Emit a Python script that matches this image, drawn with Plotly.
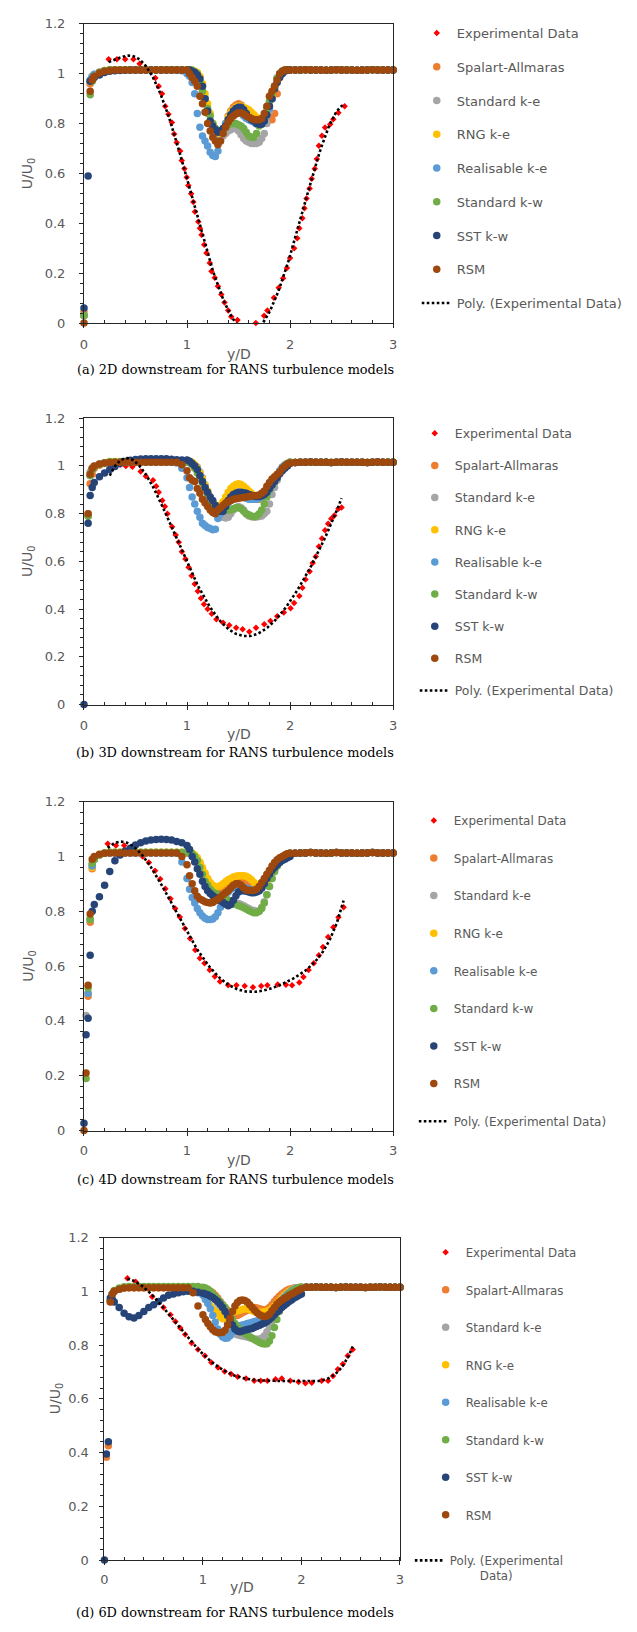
import numpy as np
import plotly.graph_objects as go

# Sample positions (y/D) shared by every CFD velocity profile
Y_D = [0, 0.02, 0.04, 0.06, 0.08, 0.1, 0.15, 0.2, 0.25, 0.3, 0.35, 0.4, 0.45, 0.5, 0.55, 0.6,
       0.65, 0.7, 0.75, 0.8, 0.85, 0.9, 0.95,
       1.0, 1.025, 1.05, 1.075, 1.1, 1.125, 1.15, 1.175, 1.2, 1.225, 1.25, 1.275, 1.3, 1.325,
       1.35, 1.375, 1.4, 1.425, 1.45, 1.475, 1.5, 1.525, 1.55, 1.575, 1.6, 1.625, 1.65, 1.675,
       1.7, 1.725, 1.75, 1.775, 1.8, 1.825, 1.85, 1.875, 1.9, 1.925, 1.95, 1.975, 2.0,
       2.05, 2.1, 2.15, 2.2, 2.25, 2.3, 2.35, 2.4, 2.45, 2.5, 2.55, 2.6, 2.65, 2.7, 2.75, 2.8,
       2.85, 2.9, 2.95, 3.0]

MODELS = ["Spalart-Allmaras", "Standard k-e", "RNG k-e", "Realisable k-e",
          "Standard k-w", "SST k-w", "RSM"]
MODEL_COLORS = ["#ED7D31", "#A5A5A5", "#FFC000", "#5B9BD5", "#70AD47", "#264478", "#9E480E"]

# ---------------- (a) 2D downstream ----------------
EXP_X_2D = [0.24, 0.32, 0.40, 0.48, 0.54, 0.62, 0.693, 0.725, 0.757, 0.789, 0.82, 0.853, 0.875,
            0.90, 0.933, 0.949, 0.975, 0.997, 1.013, 1.04, 1.061, 1.077, 1.109, 1.125, 1.141,
            1.167, 1.189, 1.221, 1.237, 1.269, 1.30, 1.333, 1.364, 1.40, 1.43, 1.49, 1.668,
            1.748, 1.78, 1.844, 1.89, 1.933, 1.97, 2.0, 2.04, 2.07, 2.09, 2.12, 2.14, 2.16, 2.19,
            2.21, 2.24, 2.26, 2.28, 2.31, 2.34, 2.39, 2.42, 2.47, 2.53]
EXP_U_2D = [1.058, 1.058, 1.058, 1.058, 1.04, 1.016, 0.983, 0.95, 0.92, 0.87, 0.837, 0.804, 0.758,
            0.724, 0.69, 0.652, 0.619, 0.585, 0.552, 0.519, 0.486, 0.446, 0.406, 0.38, 0.354,
            0.314, 0.281, 0.241, 0.208, 0.182, 0.148, 0.115, 0.082, 0.05, 0.025, 0.012, 0.0,
            0.029, 0.05, 0.102, 0.142, 0.18, 0.221, 0.261, 0.30, 0.34, 0.38, 0.42, 0.46, 0.50, 0.54,
            0.579, 0.619, 0.658, 0.711, 0.751, 0.784, 0.797, 0.817, 0.843, 0.87]
TAIL_2D = [1.015, 1.015, 1.016, 1.015, 1.015, 1.015, 1.014, 1.015, 1.016, 1.015,
           1.015, 1.015, 1.014, 1.015, 1.015, 1.016, 1.015, 1.015, 1.015, 1.015]
SA_2D = [0.045, None, None, 0.96, 0.985, 0.995, 1.005, 1.012,
         1.015, 1.015, 1.015, 1.015, 1.015, 1.015, 1.015, 1.015, 1.015, 1.015, 1.015, 1.015, 1.015, 1.015, 1.015,
         1.015, 1.015, 1.012, 1.008, 1.0, 0.985, 0.95, 0.9, 0.85, 0.81, 0.78, 0.76, 0.75, 0.755,
         0.775, 0.8, 0.83, 0.85, 0.865, 0.875, 0.88, 0.875, 0.86, 0.85, 0.84, 0.835, 0.825, 0.815,
         0.805, 0.8, 0.805, 0.82, 0.83, 0.815, 0.84, 0.92, 0.99, 1.008, 1.013, 1.015, 1.015] + TAIL_2D
KE_2D = [0.03, None, None, 0.97, 0.988, 0.997, 1.006, 1.012,
         1.015, 1.015, 1.015, 1.015, 1.015, 1.015, 1.015, 1.015, 1.015, 1.015, 1.015, 1.015, 1.015, 1.015, 1.015,
         1.015, 1.015, 1.012, 1.005, 0.995, 0.97, 0.93, 0.88, 0.84, 0.8, 0.78, 0.76, 0.745, 0.74,
         0.75, 0.76, 0.77, 0.775, 0.78, 0.78, 0.77, 0.755, 0.74, 0.73, 0.725, 0.72, 0.72, 0.72,
         0.725, 0.74, 0.76, 0.8, 0.85, 0.9, 0.95, 0.985, 1.0, 1.01, 1.013, 1.015, 1.015] + TAIL_2D
RNG_2D = [0.03, None, None, 0.97, 0.988, 0.997, 1.006, 1.013,
          1.016, 1.016, 1.016, 1.016, 1.016, 1.016, 1.016, 1.016, 1.016, 1.016, 1.016, 1.016, 1.016, 1.016, 1.016,
          1.016, 1.016, 1.015, 1.01, 1.005, 0.99, 0.96, 0.92, 0.88, 0.84, 0.8, 0.78, 0.765, 0.76,
          0.775, 0.8, 0.825, 0.845, 0.855, 0.865, 0.87, 0.87, 0.865, 0.86, 0.855, 0.845, 0.835, 0.825,
          0.815, 0.81, 0.815, 0.84, 0.87, 0.91, 0.95, 0.98, 1.0, 1.01, 1.015, 1.016, 1.016] + TAIL_2D
RKE_2D = [0.03, None, None, 0.975, 0.99, 0.998, 1.006, 1.012,
          1.015, 1.015, 1.015, 1.015, 1.015, 1.015, 1.015, 1.015, 1.015, 1.015, 1.015, 1.015, 1.015, 1.015, 1.012,
          1.0, 0.99, 0.965, 0.92, 0.84, 0.785, 0.75, 0.73, 0.71, 0.685, 0.672, 0.668, 0.69, 0.73,
          0.77, 0.8, 0.815, 0.825, 0.835, 0.84, 0.845, 0.84, 0.83, 0.82, 0.815, 0.81, 0.805, 0.8,
          0.795, 0.8, 0.81, 0.83, 0.86, 0.9, 0.95, 0.98, 1.0, 1.01, 1.015, 1.015, 1.015] + TAIL_2D
KW_2D = [0.03, None, None, 0.916, 0.97, 0.99, 1.005, 1.013,
         1.016, 1.016, 1.016, 1.016, 1.016, 1.016, 1.016, 1.016, 1.016, 1.016, 1.016, 1.016, 1.016, 1.016, 1.016,
         1.016, 1.016, 1.014, 1.008, 1.0, 0.97, 0.93, 0.9, 0.86, 0.83, 0.8, 0.78, 0.77, 0.77,
         0.775, 0.785, 0.795, 0.8, 0.8, 0.8, 0.795, 0.79, 0.78, 0.765, 0.75, 0.745, 0.745, 0.76,
         0.79, 0.81, 0.83, 0.86, 0.89, 0.92, 0.95, 0.98, 1.0, 1.01, 1.015, 1.016, 1.016] + TAIL_2D
SST_2D = [0.06, None, 0.59, 0.97, 0.978, 0.985, 0.995, 1.005, 1.01, 1.012, 1.013, 1.014,
          1.015, 1.015, 1.015, 1.015, 1.015, 1.015, 1.015, 1.015, 1.015, 1.015, 1.015,
          1.015, 1.015, 1.01, 1.005, 0.995, 0.98, 0.95, 0.9, 0.85, 0.81, 0.79, 0.775, 0.765, 0.77,
          0.78, 0.79, 0.815, 0.835, 0.85, 0.86, 0.865, 0.865, 0.855, 0.84, 0.825, 0.815, 0.81, 0.8,
          0.797, 0.797, 0.81, 0.835, 0.87, 0.9, 0.94, 0.965, 0.985, 1.0, 1.01, 1.015, 1.015] + TAIL_2D
RSM_2D = [0.0, None, None, 0.93, 0.975, 0.99, 1.003, 1.01, 1.013,
          1.015, 1.015, 1.015, 1.015, 1.015, 1.015, 1.015, 1.015, 1.015, 1.015, 1.015, 1.015, 1.015, 1.015,
          1.015, 1.0, 0.985, 0.97, 0.95, 0.91, 0.88, 0.845, 0.8, 0.77, 0.745, 0.73, 0.715, 0.73,
          0.76, 0.785, 0.805, 0.82, 0.83, 0.838, 0.843, 0.843, 0.838, 0.83, 0.825, 0.82, 0.816, 0.815,
          0.815, 0.82, 0.84, 0.87, 0.91, 0.93, 0.95, 0.975, 1.0, 1.01, 1.015, 1.015, 1.015] + TAIL_2D

# ---------------- (b) 3D downstream ----------------
EXP_X_3D = [0.25, 0.30, 0.35, 0.406, 0.47, 0.55, 0.60, 0.67, 0.70, 0.725, 0.76, 0.785, 0.81, 0.855,
            0.89, 0.92, 0.95, 0.985, 1.015, 1.045, 1.075, 1.105, 1.135, 1.165, 1.2, 1.24, 1.285,
            1.35, 1.41, 1.477, 1.54, 1.605, 1.67, 1.75, 1.81, 1.876, 1.94, 2.005, 2.04, 2.09, 2.12,
            2.15, 2.19, 2.22, 2.25, 2.28, 2.31, 2.34, 2.37, 2.40, 2.43, 2.47, 2.50]
EXP_U_3D = [0.99, 1.0, 1.005, 1.0, 0.997, 0.977, 0.957, 0.94, 0.915, 0.89, 0.855, 0.83, 0.80, 0.745,
            0.71, 0.68, 0.64, 0.61, 0.575, 0.54, 0.505, 0.475, 0.445, 0.42, 0.40, 0.38, 0.357,
            0.343, 0.332, 0.322, 0.315, 0.305, 0.322, 0.336, 0.35, 0.37, 0.386, 0.404, 0.425, 0.455,
            0.489, 0.524, 0.558, 0.593, 0.62, 0.662, 0.696, 0.73, 0.758, 0.779, 0.792, 0.82, 0.826]
TAIL_3D = [1.014, 1.015, 1.015, 1.016, 1.015, 1.015, 1.015, 1.014, 1.015, 1.016,
           1.015, 1.015, 1.015, 1.015, 1.014, 1.015, 1.016, 1.015, 1.015, 1.015]
SA_3D = [None, None, 0.79, 0.925, 0.965, 0.99, 1.003, 1.01, 1.013,
         1.015, 1.015, 1.015, 1.015, 1.015, 1.015, 1.015, 1.015, 1.015, 1.015, 1.015, 1.015, 1.015, 1.015,
         1.015, 1.013, 1.01, 1.0, 0.985, 0.96, 0.93, 0.9, 0.875, 0.855, 0.84, 0.83, 0.825, 0.83,
         0.845, 0.86, 0.87, 0.88, 0.885, 0.89, 0.89, 0.888, 0.885, 0.88, 0.875, 0.87, 0.865, 0.86,
         0.86, 0.865, 0.87, 0.88, 0.89, 0.91, 0.93, 0.95, 0.97, 0.985, 1.0, 1.01, 1.015] + TAIL_3D
KE_3D = [None, None, 0.80, 0.975, 0.99, 1.0, 1.008, 1.012,
         1.015, 1.015, 1.015, 1.015, 1.015, 1.015, 1.015, 1.015, 1.015, 1.015, 1.015, 1.015, 1.015, 1.015, 1.015,
         1.015, 1.013, 1.01, 1.003, 0.995, 0.975, 0.95, 0.92, 0.89, 0.86, 0.835, 0.815, 0.8, 0.79,
         0.785, 0.782, 0.785, 0.8, 0.815, 0.825, 0.83, 0.825, 0.815, 0.8, 0.79, 0.787, 0.786, 0.786,
         0.788, 0.79, 0.8, 0.81, 0.84, 0.88, 0.91, 0.94, 0.965, 0.985, 1.0, 1.01, 1.015] + TAIL_3D
RNG_3D = [None, None, 0.79, 0.96, 0.985, 0.997, 1.006, 1.012,
          1.018, 1.018, 1.018, 1.018, 1.018, 1.018, 1.018, 1.018, 1.018, 1.018, 1.018, 1.018, 1.018, 1.018, 1.018,
          1.02, 1.018, 1.015, 1.005, 0.99, 0.97, 0.945, 0.92, 0.895, 0.87, 0.85, 0.835, 0.83, 0.835,
          0.85, 0.87, 0.89, 0.905, 0.915, 0.922, 0.925, 0.922, 0.915, 0.905, 0.895, 0.885, 0.875, 0.87,
          0.87, 0.875, 0.885, 0.9, 0.915, 0.93, 0.945, 0.96, 0.975, 0.99, 1.0, 1.01, 1.015] + TAIL_3D
RKE_3D = [None, None, 0.79, 0.96, 0.985, 0.997, 1.006, 1.012,
          1.016, 1.016, 1.016, 1.016, 1.016, 1.016, 1.016, 1.016, 1.016, 1.016, 1.016, 1.016, 1.016, 1.012, 0.99,
          0.95, 0.91, 0.87, 0.84, 0.81, 0.785, 0.76, 0.75, 0.742, 0.738, 0.733, 0.735, 0.78, 0.80,
          0.82, 0.835, 0.845, 0.855, 0.86, 0.865, 0.87, 0.87, 0.87, 0.865, 0.86, 0.86, 0.86, 0.86,
          0.865, 0.87, 0.875, 0.885, 0.9, 0.92, 0.94, 0.96, 0.98, 0.995, 1.005, 1.01, 1.015] + TAIL_3D
KW_3D = [None, None, 0.79, 0.96, 0.985, 0.997, 1.006, 1.013,
         1.017, 1.017, 1.017, 1.017, 1.017, 1.017, 1.017, 1.017, 1.017, 1.017, 1.017, 1.017, 1.017, 1.017, 1.017,
         1.015, 1.015, 1.005, 0.99, 0.97, 0.95, 0.93, 0.91, 0.885, 0.86, 0.84, 0.83, 0.82, 0.815,
         0.815, 0.815, 0.815, 0.815, 0.82, 0.825, 0.825, 0.82, 0.81, 0.8, 0.795, 0.79, 0.787, 0.79,
         0.8, 0.815, 0.84, 0.87, 0.9, 0.92, 0.94, 0.96, 0.975, 0.99, 1.0, 1.01, 1.015] + TAIL_3D
SST_3D = [0.0, None, 0.76, 0.876, 0.91, 0.93, 0.955, 0.97, 0.985, 0.998, 1.01, 1.018, 1.024,
          1.027, 1.029, 1.03, 1.03, 1.03, 1.03, 1.03, 1.028, 1.026, 1.025,
          1.025, 1.02, 1.01, 1.0, 0.985, 0.96, 0.935, 0.91, 0.89, 0.87, 0.855, 0.835, 0.82, 0.81,
          0.81, 0.83, 0.855, 0.87, 0.88, 0.885, 0.89, 0.89, 0.888, 0.885, 0.88, 0.877, 0.874, 0.872,
          0.872, 0.875, 0.88, 0.89, 0.905, 0.92, 0.935, 0.95, 0.968, 0.98, 0.99, 1.0, 1.01] + TAIL_3D
RSM_3D = [None, None, 0.80, 0.965, 0.99, 1.0, 1.008, 1.012, 1.014,
          1.015, 1.015, 1.015, 1.015, 1.015, 1.015, 1.015, 1.015, 1.015, 1.015, 1.015, 1.015, 1.015, 1.005,
          0.98, 0.95, 0.94, 0.935, 0.905, 0.885, 0.86, 0.845, 0.83, 0.815, 0.805, 0.8, 0.815, 0.825,
          0.835, 0.845, 0.85, 0.855, 0.86, 0.862, 0.865, 0.867, 0.868, 0.87, 0.872, 0.874, 0.875, 0.876,
          0.878, 0.885, 0.895, 0.915, 0.93, 0.945, 0.955, 0.965, 0.975, 0.99, 1.0, 1.008, 1.012] + TAIL_3D

# ---------------- (c) 4D downstream ----------------
EXP_X_4D = [0.23, 0.31, 0.39, 0.49, 0.57, 0.63, 0.69, 0.74, 0.79, 0.84, 0.885, 0.93, 0.98, 1.03,
            1.08, 1.125, 1.17, 1.22, 1.27, 1.32, 1.40, 1.48, 1.56, 1.64, 1.72, 1.78, 1.88, 1.96,
            2.02, 2.09, 2.13, 2.18, 2.23, 2.28, 2.32, 2.37, 2.42, 2.47, 2.52]
EXP_U_4D = [1.046, 1.04, 1.04, 1.02, 1.0, 0.978, 0.948, 0.918, 0.882, 0.846, 0.81, 0.779, 0.737,
            0.701, 0.659, 0.629, 0.61, 0.586, 0.562, 0.544, 0.53, 0.53, 0.527, 0.523, 0.527, 0.53,
            0.533, 0.532, 0.53, 0.54, 0.56, 0.586, 0.61, 0.64, 0.67, 0.706, 0.742, 0.778, 0.815]
TAIL_4D = [1.012, 1.013, 1.013, 1.014, 1.013, 1.013, 1.012, 1.013, 1.014, 1.013,
           1.013, 1.013, 1.012, 1.013, 1.013, 1.014, 1.013, 1.013, 1.013, 1.013]
SA_4D = [None, None, 0.49, 0.76, 0.955, 0.99, 1.005, 1.012,
         1.013, 1.013, 1.013, 1.013, 1.013, 1.013, 1.013, 1.013, 1.013, 1.013, 1.013, 1.013, 1.013, 1.013, 1.013,
         1.013, 1.013, 1.01, 1.0, 0.99, 0.975, 0.955, 0.935, 0.915, 0.9, 0.89, 0.882, 0.878, 0.878,
         0.88, 0.885, 0.89, 0.895, 0.9, 0.903, 0.905, 0.905, 0.905, 0.905, 0.903, 0.9, 0.897, 0.893,
         0.89, 0.89, 0.895, 0.905, 0.92, 0.94, 0.955, 0.97, 0.985, 0.995, 1.005, 1.01, 1.013] + TAIL_4D
KE_4D = [None, 0.42, 0.50, 0.77, 0.968, 0.99, 1.005, 1.012,
         1.013, 1.013, 1.013, 1.013, 1.013, 1.013, 1.013, 1.013, 1.013, 1.013, 1.013, 1.013, 1.013, 1.013, 1.013,
         1.013, 1.012, 1.01, 1.0, 0.985, 0.965, 0.945, 0.925, 0.905, 0.89, 0.875, 0.865, 0.858, 0.852,
         0.848, 0.845, 0.84, 0.835, 0.83, 0.83, 0.828, 0.825, 0.82, 0.815, 0.81, 0.805, 0.803, 0.8,
         0.8, 0.815, 0.835, 0.86, 0.89, 0.92, 0.945, 0.965, 0.98, 0.99, 1.0, 1.008, 1.012] + TAIL_4D
RNG_4D = [None, None, 0.50, 0.77, 0.96, 0.99, 1.005, 1.013,
          1.015, 1.015, 1.015, 1.015, 1.015, 1.015, 1.015, 1.015, 1.015, 1.015, 1.015, 1.015, 1.015, 1.015, 1.015,
          1.015, 1.014, 1.012, 1.005, 0.995, 0.98, 0.96, 0.94, 0.92, 0.905, 0.895, 0.89, 0.89, 0.893,
          0.9, 0.908, 0.915, 0.92, 0.925, 0.928, 0.93, 0.93, 0.93, 0.928, 0.922, 0.915, 0.905, 0.895,
          0.89, 0.89, 0.9, 0.915, 0.93, 0.945, 0.96, 0.972, 0.983, 0.992, 1.0, 1.008, 1.012] + TAIL_4D
RKE_4D = [None, None, 0.50, 0.77, 0.965, 0.99, 1.005, 1.012,
          1.013, 1.013, 1.013, 1.013, 1.013, 1.013, 1.013, 1.013, 1.013, 1.013, 1.013, 1.013, 1.013, 1.012, 0.98,
          0.92, 0.88, 0.85, 0.83, 0.81, 0.795, 0.783, 0.775, 0.77, 0.77, 0.772, 0.78, 0.795, 0.815,
          0.835, 0.855, 0.87, 0.88, 0.885, 0.888, 0.89, 0.89, 0.888, 0.885, 0.882, 0.878, 0.875, 0.873,
          0.875, 0.885, 0.9, 0.92, 0.94, 0.955, 0.968, 0.978, 0.987, 0.995, 1.002, 1.008, 1.012] + TAIL_4D
KW_4D = [None, 0.19, 0.52, 0.77, 0.975, 0.99, 1.006, 1.013,
         1.015, 1.015, 1.015, 1.015, 1.015, 1.015, 1.015, 1.015, 1.015, 1.015, 1.015, 1.015, 1.015, 1.015, 1.015,
         1.015, 1.015, 1.01, 1.0, 0.985, 0.96, 0.935, 0.91, 0.895, 0.88, 0.87, 0.865, 0.86, 0.855,
         0.85, 0.845, 0.84, 0.835, 0.83, 0.825, 0.82, 0.817, 0.813, 0.808, 0.803, 0.798, 0.795, 0.795,
         0.8, 0.81, 0.83, 0.86, 0.89, 0.92, 0.945, 0.965, 0.98, 0.99, 1.0, 1.008, 1.012] + TAIL_4D
SST_4D = [0.027, 0.35, 0.41, 0.64, 0.80, 0.825, 0.853, 0.895, 0.945, 0.984, 1.005, 1.02, 1.03,
          1.042, 1.05, 1.056, 1.06, 1.062, 1.063, 1.062, 1.06, 1.055, 1.05,
          1.04, 1.025, 1.0, 0.98, 0.955, 0.935, 0.91, 0.89, 0.875, 0.865, 0.857, 0.85, 0.843, 0.838,
          0.832, 0.826, 0.82, 0.825, 0.84, 0.857, 0.87, 0.875, 0.875, 0.873, 0.87, 0.868, 0.868, 0.87,
          0.875, 0.885, 0.9, 0.92, 0.935, 0.95, 0.96, 0.97, 0.978, 0.985, 0.99, 0.995, 1.0] + TAIL_4D
RSM_4D = [0.0, 0.21, 0.53, 0.79, 0.99, 1.0, 1.008, 1.012,
          1.013, 1.013, 1.013, 1.013, 1.013, 1.013, 1.013, 1.013, 1.013, 1.013, 1.013, 1.013, 1.013, 1.013, 1.0,
          0.97, 0.93, 0.9, 0.875, 0.855, 0.845, 0.84, 0.835, 0.832, 0.83, 0.832, 0.838, 0.845, 0.852,
          0.86, 0.868, 0.875, 0.885, 0.895, 0.9, 0.9, 0.895, 0.885, 0.878, 0.877, 0.876, 0.877, 0.88,
          0.89, 0.905, 0.92, 0.935, 0.95, 0.965, 0.978, 0.988, 0.995, 1.0, 1.005, 1.01, 1.012] + TAIL_4D

# ---------------- (d) 6D downstream ----------------
EXP_X_6D = [0.233, 0.317, 0.40, 0.485, 0.55, 0.60, 0.67, 0.72, 0.77, 0.82, 0.885, 0.95, 1.02,
            1.085, 1.153, 1.22, 1.286, 1.353, 1.437, 1.52, 1.587, 1.654, 1.737, 1.80, 1.886, 1.97,
            2.04, 2.105, 2.205, 2.27, 2.32, 2.37, 2.42, 2.47, 2.52]
EXP_U_6D = [1.049, 1.036, 1.012, 0.98, 0.96, 0.94, 0.913, 0.888, 0.864, 0.839, 0.808, 0.784, 0.76,
            0.735, 0.717, 0.702, 0.692, 0.682, 0.676, 0.667, 0.667, 0.667, 0.673, 0.676, 0.667, 0.663,
            0.658, 0.66, 0.667, 0.667, 0.685, 0.71, 0.73, 0.76, 0.784]
TAIL_6D = [1.015, 1.015, 1.016, 1.015, 1.015, 1.015, 1.014, 1.015, 1.016, 1.015,
           1.015, 1.015, 1.014, 1.015, 1.015, 1.016, 1.015, 1.015, 1.015, 1.015]
SA_6D = [None, 0.383, 0.425, 0.962, 0.99, 1.0, 1.008, 1.012,
         1.013, 1.013, 1.013, 1.013, 1.013, 1.013, 1.013, 1.013, 1.013, 1.013, 1.013, 1.013, 1.013, 1.013, 1.013,
         1.01, 1.008, 1.005, 1.0, 0.995, 0.985, 0.975, 0.962, 0.95, 0.94, 0.93, 0.922, 0.915, 0.91,
         0.91, 0.915, 0.92, 0.925, 0.93, 0.935, 0.94, 0.94, 0.938, 0.935, 0.932, 0.93, 0.933, 0.94,
         0.95, 0.962, 0.972, 0.982, 0.99, 0.997, 1.003, 1.008, 1.01, 1.012, 1.013, 1.014, 1.015] + TAIL_6D
KE_6D = [None, None, None, 0.965, 0.99, 1.0, 1.008, 1.013,
         1.015, 1.015, 1.015, 1.015, 1.015, 1.015, 1.015, 1.015, 1.015, 1.015, 1.015, 1.015, 1.015, 1.015, 1.015,
         1.005, 1.0, 0.995, 0.988, 0.98, 0.97, 0.955, 0.94, 0.92, 0.9, 0.88, 0.865, 0.85, 0.842,
         0.838, 0.836, 0.834, 0.832, 0.83, 0.827, 0.825, 0.823, 0.822, 0.822, 0.826, 0.835, 0.85, 0.868,
         0.89, 0.91, 0.93, 0.948, 0.962, 0.975, 0.985, 0.993, 1.0, 1.005, 1.01, 1.012, 1.014] + TAIL_6D
RNG_6D = [None, None, None, 0.965, 0.99, 1.0, 1.008, 1.013,
          1.015, 1.015, 1.015, 1.015, 1.015, 1.015, 1.015, 1.015, 1.015, 1.015, 1.015, 1.015, 1.015, 1.015, 1.005,
          0.99, 0.975, 0.96, 0.945, 0.932, 0.925, 0.918, 0.905, 0.898, 0.9, 0.91, 0.918, 0.922, 0.925,
          0.928, 0.93, 0.932, 0.935, 0.935, 0.932, 0.928, 0.925, 0.923, 0.922, 0.922, 0.924, 0.926, 0.93,
          0.936, 0.945, 0.955, 0.965, 0.975, 0.985, 0.993, 1.0, 1.005, 1.01, 1.012, 1.014, 1.015] + TAIL_6D
RKE_6D = [None, None, None, 0.965, 0.99, 1.0, 1.008, 1.013,
          1.015, 1.015, 1.015, 1.015, 1.015, 1.015, 1.015, 1.015, 1.015, 1.015, 1.015, 1.015, 1.015, 1.005, 0.995,
          0.985, 0.97, 0.955, 0.935, 0.91, 0.885, 0.86, 0.84, 0.83, 0.825, 0.826, 0.835, 0.85, 0.86,
          0.867, 0.872, 0.875, 0.877, 0.88, 0.882, 0.885, 0.888, 0.89, 0.891, 0.892, 0.893, 0.895, 0.9,
          0.91, 0.925, 0.94, 0.955, 0.968, 0.978, 0.987, 0.995, 1.002, 1.008, 1.012, 1.014, 1.015] + TAIL_6D
KW_6D = [None, None, None, 0.965, 0.99, 1.003, 1.012, 1.017,
         1.018, 1.018, 1.018, 1.018, 1.018, 1.018, 1.018, 1.018, 1.018, 1.018, 1.018, 1.018, 1.018, 1.018, 1.018,
         1.015, 1.012, 1.008, 1.0, 0.99, 0.98, 0.97, 0.96, 0.95, 0.94, 0.925, 0.91, 0.895, 0.88,
         0.868, 0.858, 0.85, 0.843, 0.837, 0.831, 0.825, 0.82, 0.815, 0.81, 0.806, 0.804, 0.805, 0.815,
         0.835, 0.865, 0.895, 0.925, 0.95, 0.968, 0.98, 0.99, 0.998, 1.005, 1.01, 1.013, 1.015] + TAIL_6D
SST_6D = [0.0, 0.395, 0.44, 0.975, 0.97, 0.96, 0.94, 0.918, 0.905, 0.901, 0.91, 0.925, 0.94,
          0.95, 0.962, 0.975, 0.985, 0.99, 0.995, 0.998, 1.0, 1.0, 0.997,
          0.993, 0.99, 0.987, 0.982, 0.977, 0.97, 0.962, 0.952, 0.94, 0.925, 0.91, 0.89, 0.875, 0.86,
          0.852, 0.85, 0.852, 0.855, 0.858, 0.86, 0.862, 0.866, 0.87, 0.874, 0.878, 0.882, 0.888, 0.895,
          0.904, 0.913, 0.922, 0.93, 0.94, 0.947, 0.955, 0.962, 0.968, 0.975, 0.98, 0.985, 0.99] + TAIL_6D
RSM_6D = [None, None, None, 0.96, 0.99, 1.0, 1.008, 1.012,
          1.013, 1.013, 1.013, 1.013, 1.013, 1.013, 1.013, 1.013, 1.013, 1.013, 1.013, 1.013, 1.013, 0.995, 0.945,
          0.913, 0.895, 0.88, 0.868, 0.857, 0.85, 0.847, 0.846, 0.848, 0.855, 0.875, 0.9, 0.925, 0.945,
          0.958, 0.966, 0.968, 0.966, 0.96, 0.95, 0.94, 0.93, 0.92, 0.913, 0.908, 0.906, 0.908, 0.915,
          0.928, 0.94, 0.952, 0.96, 0.967, 0.973, 0.978, 0.985, 0.99, 0.995, 1.0, 1.005, 1.01] + TAIL_6D

PROFILES = [
    ("(a) 2D downstream for RANS turbulence models", EXP_X_2D, EXP_U_2D,
     [SA_2D, KE_2D, RNG_2D, RKE_2D, KW_2D, SST_2D, RSM_2D]),
    ("(b) 3D downstream for RANS turbulence models", EXP_X_3D, EXP_U_3D,
     [SA_3D, KE_3D, RNG_3D, RKE_3D, KW_3D, SST_3D, RSM_3D]),
    ("(c) 4D downstream for RANS turbulence models", EXP_X_4D, EXP_U_4D,
     [SA_4D, KE_4D, RNG_4D, RKE_4D, KW_4D, SST_4D, RSM_4D]),
    ("(d) 6D downstream for RANS turbulence models", EXP_X_6D, EXP_U_6D,
     [SA_6D, KE_6D, RNG_6D, RKE_6D, KW_6D, SST_6D, RSM_6D]),
]

for caption, ex, ey, series in PROFILES:
    if len(ex) != len(ey):
        raise ValueError(caption + ": experimental arrays differ in length")
    for name, s in zip(MODELS, series):
        if len(s) != len(Y_D):
            raise ValueError(f"{caption} / {name}: {len(s)} values for {len(Y_D)} positions")

# ---------------- page geometry (pixels) ----------------
W, H = 637, 1632
GEOM = [
    dict(box=(81, 394, 17, 319), leg=(418, 11.2), gap=13.85, lfs=13, cap_y=366,
         xt=(237.5, 350), yt_x=25, ystand=11, xstand=5, poly_leg=None),
    dict(box=(81, 394, 415, 704), leg=(416, 415.5), gap=12.9, lfs=12.5, cap_y=752,
         xt=(237.5, 734), yt_x=25, ystand=11, xstand=5, poly_leg=None),
    dict(box=(81, 394, 802, 1134), leg=(415, 806.5), gap=18.6, lfs=12, cap_y=1183,
         xt=(237.5, 1164), yt_x=25, ystand=11, xstand=4, poly_leg=None),
    dict(box=(101.7, 401, 1242, 1567.5), leg=(427, 1242.5), gap=18.5, lfs=11.8, cap_y=1620,
         xt=(241, 1595), yt_x=53, ystand=8, xstand=3, poly_leg=(411, 1553.5)),
]

AXIS_COLOR = "#262626"
TEXT_GRAY = "#595959"
SANS = "DejaVu Sans"


def fx(p):
    return p / W


def fy(p):
    return 1 - p / H


def poly_trend(x, y, order=6, n=160):
    coeffs = np.polyfit(x, y, order)
    xs = np.linspace(min(x), max(x), n)
    return xs, np.polyval(coeffs, xs)


fig = go.Figure()
layout = dict(width=W, height=H, margin=dict(l=0, r=0, t=0, b=0),
              paper_bgcolor="white", plot_bgcolor="white", showlegend=True,
              annotations=[])

for i, ((caption, ex, ey, series), g) in enumerate(zip(PROFILES, GEOM)):
    n = i + 1
    xa = "x" if n == 1 else f"x{n}"
    ya = "y" if n == 1 else f"y{n}"
    xkey = "xaxis" if n == 1 else f"xaxis{n}"
    ykey = "yaxis" if n == 1 else f"yaxis{n}"
    leg = "legend" if n == 1 else f"legend{n}"
    left, right, top, bottom = g["box"]

    fig.add_trace(go.Scatter(
        x=ex, y=ey, mode="markers", name="Experimental Data",
        marker=dict(symbol="diamond", size=5, color="#FF0000"),
        xaxis=xa, yaxis=ya, legend=leg, legendgroup=f"{n}-exp", cliponaxis=False))
    for name, color, ys in zip(MODELS, MODEL_COLORS, series):
        fig.add_trace(go.Scatter(
            x=Y_D, y=ys, mode="markers", name=name,
            marker=dict(size=7.5, color=color),
            xaxis=xa, yaxis=ya, legend=leg, legendgroup=f"{n}-{name}", cliponaxis=False))

    tx, ty = poly_trend(ex, ey)
    if g["poly_leg"] is None:
        poly_name, poly_legend = "Poly. (Experimental Data)", leg
    else:
        poly_name = "Poly. (Experimental<br>" + "\u00a0" * 8 + "Data)"
        poly_legend = "legend5"
    fig.add_trace(go.Scatter(
        x=tx, y=ty, mode="lines", name=poly_name,
        line=dict(color="black", width=2.6, dash="2.6px,2.4px"),
        xaxis=xa, yaxis=ya, legend=poly_legend, legendgroup=f"{n}-poly"))

    legend_font = dict(family=SANS, size=g["lfs"], color=TEXT_GRAY)
    layout[leg] = dict(x=fx(g["leg"][0]), y=fy(g["leg"][1]), xanchor="left", yanchor="top",
                       bgcolor="rgba(0,0,0,0)", font=legend_font,
                       tracegroupgap=g["gap"], valign="top")
    if g["poly_leg"] is not None:
        layout["legend5"] = dict(x=fx(g["poly_leg"][0]), y=fy(g["poly_leg"][1]),
                                 xanchor="left", yanchor="top", bgcolor="rgba(0,0,0,0)",
                                 font=legend_font, valign="top")

    tickfont = dict(family=SANS, size=13, color=TEXT_GRAY)
    layout[xkey] = dict(domain=[fx(left), fx(right)], range=[0, 3], anchor=ya,
                        tick0=0, dtick=1, ticks="outside", ticklen=4, tickcolor=AXIS_COLOR,
                        showline=True, linecolor=AXIS_COLOR, linewidth=1, mirror=True,
                        showgrid=False, zeroline=False, tickfont=tickfont,
                        ticklabelstandoff=g["xstand"], fixedrange=True,
                        minor=dict(tick0=0, dtick=0.2, ticks="inside", ticklen=3,
                                   tickcolor=AXIS_COLOR, showgrid=False))
    layout[ykey] = dict(domain=[fy(bottom), fy(top)], range=[0, 1.2], anchor=xa,
                        tick0=0, dtick=0.2, ticks="outside", ticklen=4, tickcolor=AXIS_COLOR,
                        showline=True, linecolor=AXIS_COLOR, linewidth=1, mirror=True,
                        showgrid=False, zeroline=False, tickfont=tickfont,
                        ticklabelstandoff=g["ystand"], fixedrange=True,
                        minor=dict(tick0=0, dtick=0.04, ticks="outside", ticklen=3,
                                   tickcolor=AXIS_COLOR, showgrid=False))
    # inner half of the major ticks, so they cross the axis line
    layout[f"xaxis{n + 4}"] = dict(overlaying=xa, anchor=ya, side="bottom", range=[0, 3],
                                   tick0=0, dtick=1, ticks="inside", ticklen=4,
                                   tickcolor=AXIS_COLOR, showticklabels=False,
                                   showline=False, showgrid=False, zeroline=False,
                                   fixedrange=True)
    layout[f"yaxis{n + 4}"] = dict(overlaying=ya, anchor=xa, side="left", range=[0, 1.2],
                                   tick0=0, dtick=0.2, ticks="inside", ticklen=4,
                                   tickcolor=AXIS_COLOR, showticklabels=False,
                                   showline=False, showgrid=False, zeroline=False,
                                   fixedrange=True)

    layout["annotations"] += [
        dict(text="y/D", x=fx(g["xt"][0]), y=fy(g["xt"][1]), xref="paper", yref="paper",
             xanchor="center", yanchor="middle", showarrow=False,
             font=dict(family=SANS, size=14, color=TEXT_GRAY)),
        dict(text="U/U<sub>0</sub>", x=fx(g["yt_x"]), y=fy((top + bottom) / 2),
             xref="paper", yref="paper", xanchor="center", yanchor="middle",
             textangle=-90, showarrow=False,
             font=dict(family=SANS, size=14, color=TEXT_GRAY)),
        dict(text=caption, x=fx(234), y=fy(g["cap_y"]), xref="paper", yref="paper",
             xanchor="center", yanchor="middle", showarrow=False,
             font=dict(family="DejaVu Serif", size=12.9, color="black")),
    ]

fig.update_layout(**layout)
fig.write_html("out.html")
